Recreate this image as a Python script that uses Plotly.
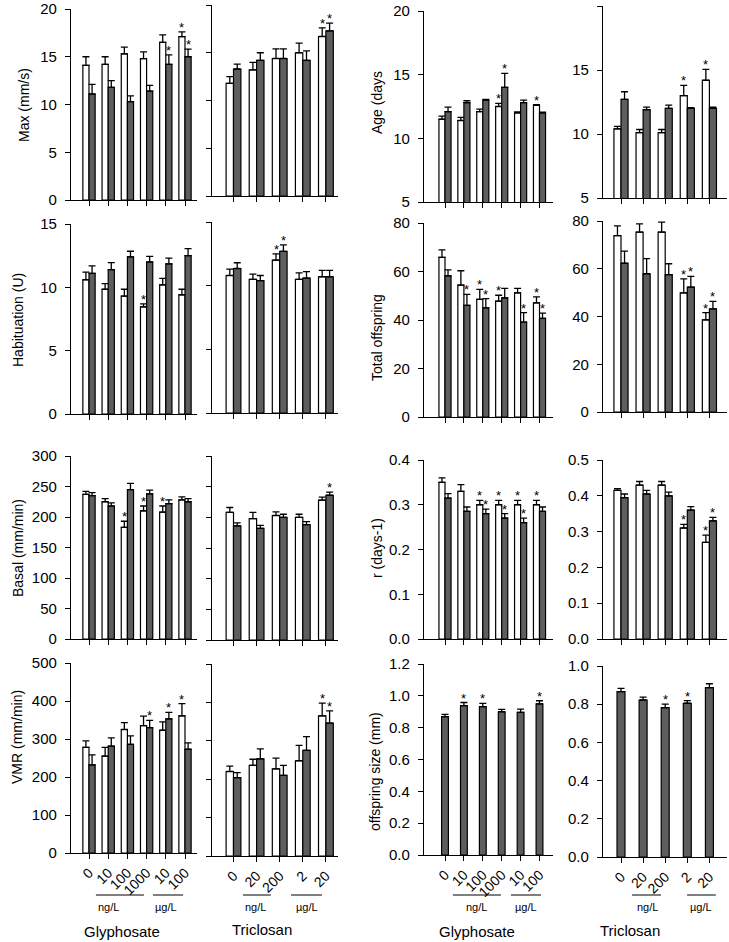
import plotly.graph_objects as go

W, H = 729, 942

gly_labels = ["0", "10", "100", "1000", "10", "100"]
tri_labels = ["0", "20", "200", "2", "20"]

# ---------------- Behaviour: Max (mm/s) ----------------
max_gly_white = [14.1, 14.2, 15.3, 14.8, 16.5, 17.1]
max_gly_white_err = [0.9, 0.8, 0.7, 0.7, 0.8, 0.5]
max_gly_gray = [11.1, 11.8, 10.3, 11.4, 14.2, 15.0]
max_gly_gray_err = [1.0, 0.7, 0.6, 0.6, 1.0, 0.8]
max_gly_star_w = [0, 0, 0, 0, 0, 1]
max_gly_star_g = [0, 0, 0, 0, 1, 1]

max_tri_white = [11.8, 13.2, 14.4, 15.0, 16.7]
max_tri_white_err = [0.7, 0.8, 1.0, 1.0, 0.9]
max_tri_gray = [13.3, 14.2, 14.4, 14.2, 17.3]
max_tri_gray_err = [0.5, 0.8, 1.0, 1.0, 0.8]
max_tri_star_w = [0, 0, 0, 0, 1]
max_tri_star_g = [0, 0, 0, 0, 1]

# ---------------- Habituation (U) ----------------
hab_gly_white = [10.6, 9.85, 9.3, 8.45, 10.2, 9.4]
hab_gly_white_err = [0.6, 0.45, 0.55, 0.25, 0.5, 0.45]
hab_gly_gray = [11.1, 11.4, 12.4, 12.0, 11.85, 12.5]
hab_gly_gray_err = [0.6, 0.55, 0.45, 0.45, 0.45, 0.55]
hab_gly_star_w = [0, 0, 0, 1, 0, 0]
hab_gly_star_g = [0, 0, 0, 0, 0, 0]

hab_tri_white = [10.8, 10.5, 12.0, 10.5, 10.7]
hab_tri_white_err = [0.5, 0.4, 0.5, 0.5, 0.5]
hab_tri_gray = [11.35, 10.4, 12.7, 10.6, 10.7]
hab_tri_gray_err = [0.45, 0.4, 0.5, 0.5, 0.5]
hab_tri_star_w = [0, 0, 1, 0, 0]
hab_tri_star_g = [0, 0, 1, 0, 0]

# ---------------- Basal (mm/min) ----------------
bas_gly_white = [237, 225, 183, 210, 208, 228]
bas_gly_white_err = [5, 5, 10, 8, 10, 5]
bas_gly_gray = [235, 218, 245, 238, 222, 225]
bas_gly_gray_err = [5, 5, 10, 6, 6, 5]
bas_gly_star_w = [0, 0, 1, 1, 1, 0]
bas_gly_star_g = [0, 0, 0, 0, 0, 0]

bas_tri_white = [208, 198, 203, 200, 228]
bas_tri_white_err = [8, 10, 6, 5, 5]
bas_tri_gray = [186, 182, 200, 188, 236]
bas_tri_gray_err = [5, 5, 5, 5, 5]
bas_tri_star_w = [0, 0, 0, 0, 0]
bas_tri_star_g = [0, 0, 0, 0, 1]

# ---------------- VMR (mm/min) ----------------
vmr_gly_white = [278, 255, 325, 335, 323, 361]
vmr_gly_white_err = [17, 23, 18, 25, 22, 32]
vmr_gly_gray = [232, 281, 286, 330, 353, 273]
vmr_gly_gray_err = [26, 22, 22, 19, 17, 17]
vmr_gly_star_w = [0, 0, 0, 0, 0, 1]
vmr_gly_star_g = [0, 0, 0, 1, 1, 0]

vmr_tri_white = [220, 236, 227, 248, 365]
vmr_tri_white_err = [14, 16, 28, 40, 33]
vmr_tri_gray = [204, 253, 210, 275, 346]
vmr_tri_gray_err = [13, 26, 26, 36, 32]
vmr_tri_star_w = [0, 0, 0, 0, 1]
vmr_tri_star_g = [0, 0, 0, 0, 1]

# ---------------- Age (days) ----------------
age_gly_white = [11.5, 11.4, 12.1, 12.5, 12.0, 12.6]
age_gly_white_err = [0.25, 0.25, 0.2, 0.25, 0.07, 0.05]
age_gly_gray = [12.1, 12.8, 13.0, 14.0, 12.8, 12.0]
age_gly_gray_err = [0.35, 0.15, 0.05, 1.1, 0.2, 0.05]
age_gly_star_w = [0, 0, 0, 1, 0, 1]
age_gly_star_g = [0, 0, 0, 1, 0, 0]

age_tri_white = [10.4, 10.1, 10.1, 13.0, 14.2]
age_tri_white_err = [0.2, 0.25, 0.25, 0.8, 0.85]
age_tri_gray = [12.7, 11.9, 12.0, 12.0, 12.0]
age_tri_gray_err = [0.6, 0.2, 0.25, 0.05, 0.1]
age_tri_star_w = [0, 0, 0, 1, 1]
age_tri_star_g = [0, 0, 0, 0, 0]

# ---------------- Total offspring ----------------
tot_gly_white = [65.8, 54.4, 48.5, 47.8, 51.2, 47.1]
tot_gly_white_err = [3.1, 5.9, 4.1, 2.4, 1.8, 2.4]
tot_gly_gray = [58.2, 46.0, 45.0, 49.1, 39.1, 40.7]
tot_gly_gray_err = [2.5, 4.6, 3.8, 3.9, 3.9, 2.1]
tot_gly_star_w = [0, 0, 1, 1, 0, 1]
tot_gly_star_g = [0, 1, 1, 0, 1, 1]

tot_tri_white = [73.9, 75.3, 75.3, 49.9, 38.6]
tot_tri_white_err = [4.1, 3.5, 4.2, 5.9, 3.0]
tot_tri_gray = [62.3, 57.9, 57.5, 52.3, 43.2]
tot_tri_gray_err = [5.1, 6.3, 4.6, 4.5, 3.1]
tot_tri_star_w = [0, 0, 0, 1, 1]
tot_tri_star_g = [0, 0, 0, 1, 1]

# ---------------- r (days-1) ----------------
r_gly_white = [0.35, 0.33, 0.30, 0.30, 0.30, 0.30]
r_gly_white_err = [0.01, 0.015, 0.01, 0.01, 0.01, 0.01]
r_gly_gray = [0.315, 0.285, 0.28, 0.27, 0.26, 0.285]
r_gly_gray_err = [0.01, 0.01, 0.01, 0.01, 0.01, 0.01]
r_gly_star_w = [0, 0, 1, 1, 1, 1]
r_gly_star_g = [0, 0, 1, 1, 1, 0]

r_tri_white = [0.415, 0.43, 0.43, 0.31, 0.27]
r_tri_white_err = [0.005, 0.01, 0.01, 0.01, 0.02]
r_tri_gray = [0.395, 0.405, 0.40, 0.36, 0.33]
r_tri_gray_err = [0.01, 0.01, 0.01, 0.01, 0.01]
r_tri_star_w = [0, 0, 0, 1, 1]
r_tri_star_g = [0, 0, 0, 0, 1]

# ---------------- offspring size (mm) ----------------
size_gly = [0.869, 0.938, 0.932, 0.90, 0.896, 0.949]
size_gly_err = [0.015, 0.02, 0.02, 0.015, 0.02, 0.02]
size_gly_star = [0, 1, 1, 0, 0, 1]

size_tri = [0.866, 0.822, 0.782, 0.805, 0.887]
size_tri_err = [0.017, 0.015, 0.018, 0.014, 0.02]
size_tri_star = [0, 0, 1, 1, 0]

# ---------------- layout geometry (pixels) ----------------
COLS = {
    1: dict(yx=70, xend=197, t0=89, sp=19.2, labels=gly_labels),
    2: dict(yx=211, xend=338, t0=233.5, sp=23.1, labels=tri_labels),
    3: dict(yx=423, xend=553, t0=445, sp=18.9, labels=gly_labels),
    4: dict(yx=602, xend=727, t0=621, sp=22.1, labels=tri_labels),
}

panels = [
    dict(row=1, col=1, top=9, bot=200, yr=[0, 20], dt=5, fmt="", title="Max (mm/s)",
         w=max_gly_white, we=max_gly_white_err, g=max_gly_gray, ge=max_gly_gray_err,
         sw=max_gly_star_w, sg=max_gly_star_g),
    dict(row=1, col=2, top=5, bot=196, yr=[0, 20], dt=5, fmt="",
         w=max_tri_white, we=max_tri_white_err, g=max_tri_gray, ge=max_tri_gray_err,
         sw=max_tri_star_w, sg=max_tri_star_g, nolab=True),
    dict(row=1, col=3, top=11, bot=202, yr=[5, 20], dt=5, fmt="", title="Age (days",
         w=age_gly_white, we=age_gly_white_err, g=age_gly_gray, ge=age_gly_gray_err,
         sw=age_gly_star_w, sg=age_gly_star_g),
    dict(row=1, col=4, top=6, bot=198, yr=[5, 20], dt=5, fmt="",
         w=age_tri_white, we=age_tri_white_err, g=age_tri_gray, ge=age_tri_gray_err,
         sw=age_tri_star_w, sg=age_tri_star_g),
    dict(row=2, col=1, top=224, bot=414, yr=[0, 15], dt=5, fmt="", title="Habituation (U)",
         w=hab_gly_white, we=hab_gly_white_err, g=hab_gly_gray, ge=hab_gly_gray_err,
         sw=hab_gly_star_w, sg=hab_gly_star_g),
    dict(row=2, col=2, top=222, bot=413, yr=[0, 15], dt=5, fmt="",
         w=hab_tri_white, we=hab_tri_white_err, g=hab_tri_gray, ge=hab_tri_gray_err,
         sw=hab_tri_star_w, sg=hab_tri_star_g, nolab=True),
    dict(row=2, col=3, top=223, bot=417, yr=[0, 80], dt=20, fmt="", title="Total offspring",
         w=tot_gly_white, we=tot_gly_white_err, g=tot_gly_gray, ge=tot_gly_gray_err,
         sw=tot_gly_star_w, sg=tot_gly_star_g),
    dict(row=2, col=4, top=221, bot=412, yr=[0, 80], dt=20, fmt="",
         w=tot_tri_white, we=tot_tri_white_err, g=tot_tri_gray, ge=tot_tri_gray_err,
         sw=tot_tri_star_w, sg=tot_tri_star_g),
    dict(row=3, col=1, top=456, bot=639, yr=[0, 300], dt=50, fmt="", title="Basal (mm/min)",
         w=bas_gly_white, we=bas_gly_white_err, g=bas_gly_gray, ge=bas_gly_gray_err,
         sw=bas_gly_star_w, sg=bas_gly_star_g),
    dict(row=3, col=2, top=456, bot=640, yr=[0, 300], dt=50, fmt="",
         w=bas_tri_white, we=bas_tri_white_err, g=bas_tri_gray, ge=bas_tri_gray_err,
         sw=bas_tri_star_w, sg=bas_tri_star_g, nolab=True),
    dict(row=3, col=3, top=460, bot=639, yr=[0, 0.4], dt=0.1, fmt=".1f", title="r (days-1)",
         w=r_gly_white, we=r_gly_white_err, g=r_gly_gray, ge=r_gly_gray_err,
         sw=r_gly_star_w, sg=r_gly_star_g),
    dict(row=3, col=4, top=460, bot=639, yr=[0, 0.5], dt=0.1, fmt=".1f",
         w=r_tri_white, we=r_tri_white_err, g=r_tri_gray, ge=r_tri_gray_err,
         sw=r_tri_star_w, sg=r_tri_star_g),
    dict(row=4, col=1, top=663, bot=853, yr=[0, 500], dt=100, fmt="", title="VMR (mm/min)",
         w=vmr_gly_white, we=vmr_gly_white_err, g=vmr_gly_gray, ge=vmr_gly_gray_err,
         sw=vmr_gly_star_w, sg=vmr_gly_star_g),
    dict(row=4, col=2, top=664, bot=856, yr=[0, 500], dt=100, fmt="",
         w=vmr_tri_white, we=vmr_tri_white_err, g=vmr_tri_gray, ge=vmr_tri_gray_err,
         sw=vmr_tri_star_w, sg=vmr_tri_star_g, nolab=True),
    dict(row=4, col=3, top=664, bot=855, yr=[0, 1.2], dt=0.2, fmt=".1f", title="offspring size (mm)",
         w=None, g=size_gly, ge=size_gly_err, sg=size_gly_star),
    dict(row=4, col=4, top=666, bot=857, yr=[0, 1.0], dt=0.2, fmt=".1f",
         w=None, g=size_tri, ge=size_tri_err, sg=size_tri_star),
]

TITLE_POS = {  # pixel x, y centre of rotated y titles
    "Max (mm/s)": (24, 105), "Habituation (U)": (18, 320),
    "Basal (mm/min)": (18, 548), "VMR (mm/min)": (17, 737),
    "Age (days": (377, 103), "Total offspring": (377, 338),
    "r (days-1)": (377, 548), "offspring size (mm)": (375, 772),
}

FONT = "Liberation Sans, Arial, Helvetica, sans-serif"
GRAY = "#5e5e5e"
BW = 0.32

fig = go.Figure()
annotations = []
shapes = []


def px_x(x):
    return x / W


def px_y(y):
    return 1 - y / H


def star(x, y, xa, ya):
    return dict(x=x, y=y, xref=xa, yref=ya, text="*", showarrow=False,
                xanchor="center", yanchor="bottom", yshift=-5,
                font=dict(family=FONT, size=13, color="black"))


for k, p in enumerate(panels, start=1):
    c = COLS[p["col"]]
    n = len(c["labels"])
    xs = list(range(n))
    xa = "x" if k == 1 else f"x{k}"
    ya = "y" if k == 1 else f"y{k}"
    err_style = dict(type="data", symmetric=False, color="black", thickness=1.3, width=3.5)
    if p["w"] is not None:
        xw = [i - BW / 2 for i in xs]
        xg = [i + BW / 2 for i in xs]
        fig.add_trace(go.Bar(x=xw, y=p["w"], width=BW, xaxis=xa, yaxis=ya,
                             marker=dict(color="white", line=dict(color="black", width=1.2)),
                             error_y=dict(array=p["we"], arrayminus=[0] * n, **err_style),
                             showlegend=False))
        for i in xs:
            if p["sw"][i]:
                annotations.append(star(xw[i], p["w"][i] + p["we"][i], xa, ya))
    else:
        xg = list(xs)
    fig.add_trace(go.Bar(x=xg, y=p["g"], width=BW if p["w"] is not None else 0.36,
                         xaxis=xa, yaxis=ya,
                         marker=dict(color=GRAY, line=dict(color="black", width=1.2)),
                         error_y=dict(array=p["ge"], arrayminus=[0] * n, **err_style),
                         showlegend=False))
    for i in xs:
        if p["sg"][i]:
            annotations.append(star(xg[i], p["g"][i] + p["ge"][i], xa, ya))

    left = c["yx"] - 4
    xr = [(left - c["t0"]) / c["sp"], (c["xend"] - c["t0"]) / c["sp"]]
    is_bottom = p["row"] == 4
    fig.update_layout(**{
        ("xaxis" if k == 1 else f"xaxis{k}"): dict(
            domain=[px_x(left), px_x(c["xend"])], anchor=ya, range=xr,
            tickmode="array", tickvals=xs, ticktext=c["labels"],
            showticklabels=is_bottom, tickangle=-45, automargin=False,
            ticks="outside", ticklen=5, tickwidth=1.2, tickcolor="black",
            showline=True, linecolor="black", linewidth=1.3,
            showgrid=False, zeroline=False, fixedrange=True,
            tickfont=dict(family=FONT, size=14, color="black")),
        ("yaxis" if k == 1 else f"yaxis{k}"): dict(
            domain=[px_y(p["bot"]), px_y(p["top"])], anchor="free", position=px_x(c["yx"]),
            range=p["yr"], tick0=p["yr"][0], dtick=p["dt"], tickformat=p["fmt"],
            showticklabels=not p.get("nolab", False), automargin=False,
            ticks="outside", ticklen=5, tickwidth=1.2, tickcolor="black",
            ticklabelstandoff=5,
            showline=True, linecolor="black", linewidth=1.3,
            showgrid=False, zeroline=False, fixedrange=True,
            tickfont=dict(family=FONT, size=15, color="black")),
    })
    if "title" in p:
        tx, ty = TITLE_POS[p["title"]]
        annotations.append(dict(x=px_x(tx), y=px_y(ty), xref="paper", yref="paper",
                                xanchor="center", yanchor="middle",
                                text=p["title"], textangle=-90, showarrow=False,
                                font=dict(family=FONT, size=14, color="black")))

# concentration unit brackets under the bottom row (in category units of each axis)
UNIT_LINES = {
    13: dict(ng=(0.36, 2.86), ug=(3.33, 4.9), ngl=0.99, ugl=4.0, name="Glyphosate", nx=1.72, ny=931),
    14: dict(ng=(0.41, 1.62), ug=(2.49, 3.83), ngl=0.97, ugl=3.18, name="Triclosan", nx=1.23, ny=929),
    15: dict(ng=(0.42, 2.96), ug=(3.49, 5.08), ngl=1.69, ugl=4.29, name="Glyphosate", nx=1.69, ny=931),
    16: dict(ng=(0.5, 1.81), ug=(2.99, 4.29), ngl=1.18, ugl=3.62, name="Triclosan", nx=0.41, ny=930),
}
for k, u in UNIT_LINES.items():
    xa = f"x{k}"
    for seg in (u["ng"], u["ug"]):
        shapes.append(dict(type="line", xref=xa, yref="paper", x0=seg[0], x1=seg[1],
                           y0=px_y(895), y1=px_y(895), line=dict(color="black", width=1)))
    for txt, xv, yv, fs in (("ng/L", u["ngl"], 907, 11), ("µg/L", u["ugl"], 907, 11),
                            (u["name"], u["nx"], u["ny"], 15)):
        annotations.append(dict(x=xv, y=px_y(yv), xref=xa, yref="paper", text=txt,
                                xanchor="center", yanchor="middle", showarrow=False,
                                font=dict(family=FONT, size=fs, color="black")))

fig.update_layout(width=W, height=H, margin=dict(l=0, r=0, t=0, b=0),
                  paper_bgcolor="white", plot_bgcolor="white", barmode="overlay",
                  annotations=annotations, shapes=shapes, showlegend=False)

fig.write_html("out.html", config={"displayModeBar": False})
